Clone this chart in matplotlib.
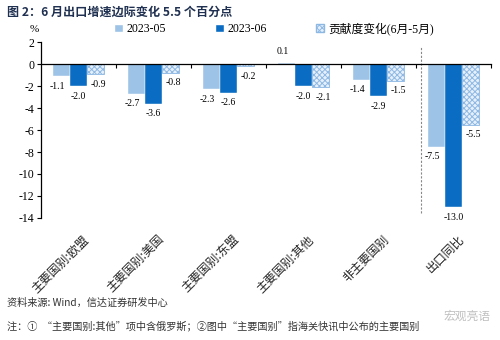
import matplotlib
matplotlib.use("Agg")
import matplotlib.pyplot as plt
import numpy as np
from matplotlib.patches import Patch

plt.rcParams['font.family'] = ['Liberation Serif', 'Noto Sans CJK SC', 'DejaVu Sans']
plt.rcParams['hatch.linewidth'] = 0.7

categories = ['主要国别:欧盟', '主要国别:美国', '主要国别:东盟', '主要国别:其他', '非主要国别', '出口同比']
series_names = ['2023-05', '2023-06', '贡献度变化(6月-5月)']
may_vals = [-1.1, -2.7, -2.3, 0.1, -1.4, -7.5]
jun_vals = [-2.0, -3.6, -2.6, -2.0, -2.9, -13.0]
chg_vals = [-0.9, -0.8, -0.2, -2.1, -1.5, -5.5]
yticks = [-14, -12, -10, -8, -6, -4, -2, 0, 2]

c_light = '#9DC3E6'
c_dark = '#0A6CC2'
c_hatch = '#8DB8E4'
c_hatch_face = '#E6F0FA'

fig = plt.figure(figsize=(5, 3.4), dpi=100)
ax = fig.add_axes([0.082, 0.359, 0.9, 0.517])

x = np.arange(len(categories))
w = 0.225
b1 = ax.bar(x - w, may_vals, w, color=c_light, edgecolor='white', linewidth=0.3)
b2 = ax.bar(x, jun_vals, w, color=c_dark, edgecolor='white', linewidth=0.3)
b3 = ax.bar(x + w, chg_vals, w, color=c_hatch_face, edgecolor=c_hatch, hatch='xxxxxx', linewidth=0.6)

ax.set_xlim(-0.5, 5.5)
ax.set_ylim(-14, 2)
ax.set_yticks(yticks)
ax.set_yticklabels([str(t) for t in yticks], fontsize=8.5)
ax.tick_params(axis='y', direction='out', length=3, width=0.8, pad=2)

ax.spines['top'].set_visible(False)
ax.spines['right'].set_visible(False)
ax.spines['bottom'].set_position(('data', 0))
ax.spines['left'].set_linewidth(0.9)
ax.spines['bottom'].set_linewidth(0.9)
ax.set_xticks(np.arange(0.5, 6.0, 1.0))
ax.set_xticklabels([])
ax.tick_params(axis='x', direction='out', length=3, width=0.8)

# dashed separator
ax.axvline(4.57, ymin=0.03, ymax=0.98, color='#888888', linestyle=(0, (2, 1.5)), linewidth=0.8)

# data labels
def label(bars, vals, dx):
    for rect, v in zip(bars, vals):
        xc = rect.get_x() + rect.get_width() / 2
        if v >= 0:
            ax.annotate(f'{v:.1f}', (xc, v), xytext=(dx, 5), textcoords='offset points',
                        ha='center', va='bottom', fontsize=7)
        else:
            ax.annotate(f'{v:.1f}', (xc, v), xytext=(dx, -4), textcoords='offset points',
                        ha='center', va='top', fontsize=7)

label(b1, may_vals, -3)
label(b2, jun_vals, 0)
label(b3, chg_vals, 2)

# category labels
for i, c in enumerate(categories):
    ax.text(i + 0.05, -0.085, c, transform=ax.get_xaxis_transform(), rotation=45,
            rotation_mode='anchor', ha='right', va='top', fontsize=8.6,
            family=['Noto Sans CJK SC'], color='#222222')

# legend
handles = [Patch(facecolor=c_light, edgecolor='white'),
           Patch(facecolor=c_dark, edgecolor='white'),
           Patch(facecolor=c_hatch_face, edgecolor=c_hatch, hatch='xxxxxx')]
fig.legend(handles, series_names, loc='center', bbox_to_anchor=(0.548, 1 - 29 / 340),
           ncol=3, frameon=False, fontsize=8.5, handlelength=0.7, handleheight=0.7,
           handletextpad=0.3, columnspacing=4.2)

fig.text(30 / 500, 1 - 29 / 340, '%', ha='left', va='center', fontsize=8)

fig.text(7 / 500, 1 - 12 / 340, '图 2：6 月出口增速边际变化 5.5 个百分点', ha='left', va='center',
         fontsize=8.7, fontweight='bold', color='#1F3050',
         family=['Noto Sans CJK SC', 'DejaVu Sans'])

fig.text(7 / 500, 1 - 303 / 340, '资料来源: Wind，信达证券研发中心', ha='left', va='center',
         fontsize=7.3, color='#333333', style='italic', family=['Noto Sans CJK SC', 'DejaVu Sans'])
fig.text(7 / 500, 1 - 326 / 340, '注：①  “主要国别:其他”项中含俄罗斯；②图中“主要国别”指海关快讯中公布的主要国别',
         ha='left', va='center', fontsize=7.3, color='#333333', style='italic',
         family=['Noto Sans CJK SC', 'DejaVu Sans'])
fig.text(490 / 500, 1 - 316 / 340, '宏观亮语', ha='right', va='center', fontsize=8.5,
         color='#C0C0C0', family=['Noto Sans CJK SC', 'DejaVu Sans'])

fig.savefig('out.png', dpi=100)
